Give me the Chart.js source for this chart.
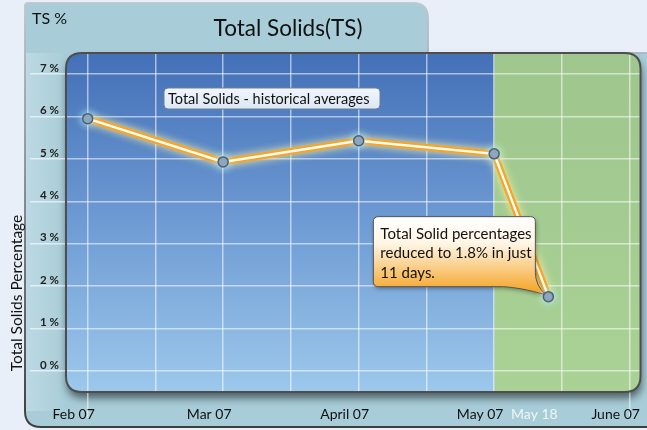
<!DOCTYPE html>
<html><head><meta charset="utf-8">
<script src="https://cdn.jsdelivr.net/npm/chart.js@4.4.0/dist/chart.umd.min.js"></script>
<style>html,body{margin:0;padding:0;background:#E9EFF8;}canvas{display:block;}</style>
</head><body>
<canvas id="c" width="647" height="430"></canvas>
<script>
// ---- data ----
const categories = ['Feb 07', 'Mar 07', 'April 07', 'May 07', 'May 18', 'June 07'];
const categoryPos = [0, 1, 2, 3, 3.4, 4];
const tsPercent = [5.95, 4.93, 5.43, 5.12, 1.75];   // June 07 has no value
const yTickValues = [0, 1, 2, 3, 4, 5, 6, 7];
const xGridStep = 0.5;
const shadeSplit = 3;                                // May 07: blue (historical) | green
const chartTitle = 'Total Solids(TS)';
const unitLabel = 'TS %';
const yAxisTitle = 'Total Solids Percentage';
const note1 = 'Total Solids - historical averages';
const note2 = ['Total Solid percentages', 'reduced to 1.8% in just', '11 days.'];

const FONT = 'Lato, "Open Sans", sans-serif';
const tsPoints = tsPercent.map((v, i) => ({ x: categoryPos[i], y: v }));

function rr(ctx, x, y, w, h, r) {
  ctx.beginPath();
  ctx.moveTo(x + r, y);
  ctx.lineTo(x + w - r, y); ctx.quadraticCurveTo(x + w, y, x + w, y + r);
  ctx.lineTo(x + w, y + h - r); ctx.quadraticCurveTo(x + w, y + h, x + w - r, y + h);
  ctx.lineTo(x + r, y + h); ctx.quadraticCurveTo(x, y + h, x, y + h - r);
  ctx.lineTo(x, y + r); ctx.quadraticCurveTo(x, y, x + r, y);
  ctx.closePath();
}

function drawCallouts(chart) {
  const ctx = chart.ctx, a = chart.chartArea;
  ctx.save();
  // callout 1
  const L1 = a.left + 98, T1 = a.top + 35, W1 = 216, H1 = 21;
  rr(ctx, L1, T1, W1, H1, 4);
  const g1 = ctx.createLinearGradient(0, T1, 0, T1 + H1);
  g1.addColorStop(0, '#F2F6FB'); g1.addColorStop(1, '#DCE7F4');
  ctx.fillStyle = g1; ctx.fill();
  ctx.lineWidth = 1; ctx.strokeStyle = '#6E7F96'; ctx.stroke();
  ctx.fillStyle = '#111'; ctx.font = '14.5px ' + FONT;
  ctx.textAlign = 'left'; ctx.textBaseline = 'middle';
  ctx.fillText(note1, L1 + 4, T1 + H1 / 2 + 0.5);

  // callout 2 anchored at the May 18 point
  const meta = chart.getDatasetMeta(0);
  const pt = meta.data[meta.data.length - 1];
  const tipX = pt.x - 3, tipY = pt.y - 2;
  const R = pt.x - 13, B = pt.y - 10, W = 162, H = 70, L = R - W, T = B - H, r = 5;
  ctx.beginPath();
  ctx.moveTo(L + r, T);
  ctx.lineTo(R - r, T); ctx.quadraticCurveTo(R, T, R, T + r);
  ctx.lineTo(R, B - 14);
  ctx.quadraticCurveTo(R, B - 2, tipX, tipY);
  ctx.quadraticCurveTo(R - 14, B + 1, R - 32, B);
  ctx.lineTo(L + r, B); ctx.quadraticCurveTo(L, B, L, B - r);
  ctx.lineTo(L, T + r); ctx.quadraticCurveTo(L, T, L + r, T);
  ctx.closePath();
  const g2 = ctx.createLinearGradient(0, T, 0, tipY);
  g2.addColorStop(0, '#FFFFFF'); g2.addColorStop(0.35, '#FFF5E4'); g2.addColorStop(1, '#F4A01C');
  ctx.save();
  ctx.shadowColor = 'rgba(0,0,0,0.35)'; ctx.shadowBlur = 4; ctx.shadowOffsetX = 1; ctx.shadowOffsetY = 2;
  ctx.fillStyle = g2; ctx.fill();
  ctx.restore();
  ctx.lineWidth = 1; ctx.strokeStyle = '#555'; ctx.stroke();
  ctx.fillStyle = '#111'; ctx.font = '15px ' + FONT;
  note2.forEach((s, i) => ctx.fillText(s, L + 7, T + 17 + i * 19.5));
  ctx.restore();
}

const decor = {
  id: 'decor',
  beforeDraw(chart) {
    const ctx = chart.ctx, a = chart.chartArea, W = chart.width, Hh = chart.height;
    ctx.save();
    ctx.fillStyle = '#E9EFF8'; ctx.fillRect(0, 0, W, Hh);
    // teal frame with tab
    const px = 25, tabR = 428, bot = 427;
    ctx.beginPath();
    ctx.moveTo(px, 6); ctx.quadraticCurveTo(px, 3, px + 3, 3);
    ctx.lineTo(tabR - 15, 3); ctx.quadraticCurveTo(tabR, 3, tabR, 18);
    ctx.lineTo(tabR, a.top); ctx.lineTo(W + 2, a.top);
    ctx.lineTo(W + 2, bot); ctx.lineTo(px + 16, bot);
    ctx.quadraticCurveTo(px, bot, px, bot - 16);
    ctx.closePath();
    ctx.fillStyle = '#A8CDD9'; ctx.fill();
    const sg = ctx.createLinearGradient(0, 0, 0, bot);
    sg.addColorStop(0, 'rgba(190,200,205,0.9)'); sg.addColorStop(0.5, 'rgba(120,125,130,0.9)'); sg.addColorStop(1, '#3E3E3E');
    ctx.lineWidth = 2; ctx.strokeStyle = sg; ctx.stroke();
    // light haze at left strip
    const hz = ctx.createLinearGradient(px, 0, a.left, 0);
    hz.addColorStop(0, 'rgba(255,255,255,0.25)'); hz.addColorStop(1, 'rgba(255,255,255,0)');
    ctx.fillStyle = hz; ctx.fillRect(px + 1, a.top, a.left - px, bot - a.top - 16);
    // plot rect with shadow
    const w = a.right - a.left, h = a.bottom - a.top;
    ctx.save();
    ctx.shadowColor = 'rgba(0,0,0,0.55)'; ctx.shadowBlur = 9; ctx.shadowOffsetY = 6; ctx.shadowOffsetX = 1;
    rr(ctx, a.left, a.top, w, h, 16);
    ctx.fillStyle = '#6F9ED6'; ctx.fill();
    ctx.restore();
    ctx.save();
    rr(ctx, a.left, a.top, w, h, 16); ctx.clip();
    const xs = chart.scales.x.getPixelForValue(shadeSplit);
    const gb = ctx.createLinearGradient(0, a.top, 0, a.bottom);
    gb.addColorStop(0, '#4370B7'); gb.addColorStop(0.5, '#6E9BD3'); gb.addColorStop(1, '#9DC8EC');
    ctx.fillStyle = gb; ctx.fillRect(a.left, a.top, xs - a.left, h);
    const gg = ctx.createLinearGradient(0, a.top, 0, a.bottom);
    gg.addColorStop(0, '#9EC68D'); gg.addColorStop(1, '#AAD296');
    ctx.fillStyle = gg; ctx.fillRect(xs, a.top, a.right - xs, h);
    ctx.restore();
    ctx.restore();
  },
  beforeDatasetsDraw(chart) {
    const ctx = chart.ctx, a = chart.chartArea;
    ctx.save();
    rr(ctx, a.left, a.top, a.right - a.left, a.bottom - a.top, 16);
    ctx.lineWidth = 2; ctx.strokeStyle = '#4E4E4E'; ctx.stroke();
    ctx.restore();
  },
  beforeDatasetDraw(chart, args) {
    const ds = chart.data.datasets[args.index];
    if (ds.glow) { chart.ctx.save(); chart.ctx.shadowColor = ds.glow; chart.ctx.shadowBlur = ds.glowBlur; }
  },
  afterDatasetDraw(chart, args) {
    const ds = chart.data.datasets[args.index];
    if (ds.glow) chart.ctx.restore();
    if (args.index === 1) drawCallouts(chart);
  },
  afterDraw(chart) {
    const ctx = chart.ctx;
    ctx.save();
    ctx.fillStyle = '#111'; ctx.textBaseline = 'middle';
    ctx.textAlign = 'left'; ctx.font = '16px ' + FONT;
    ctx.fillText(unitLabel, 32, 19);
    ctx.textAlign = 'center'; ctx.font = '22.5px ' + FONT;
    ctx.fillText(chartTitle, 288, 29);
    ctx.translate(17, 293); ctx.rotate(-Math.PI / 2);
    ctx.font = '15.5px ' + FONT;
    ctx.fillText(yAxisTitle, 0, 0);
    ctx.restore();
  }
};

new Chart(document.getElementById('c'), {
  type: 'line',
  data: {
    datasets: [
      { data: tsPoints, showLine: false, pointRadius: 5, pointHoverRadius: 5,
        pointBackgroundColor: '#8396AE', pointBorderColor: '#4F5E74', pointBorderWidth: 1.5,
        glow: 'rgba(175,240,255,1)', glowBlur: 9 },
      { data: tsPoints, borderColor: '#FFFDF2', borderWidth: 2.4, pointRadius: 0, tension: 0 },
      { data: tsPoints, borderColor: '#F5A52A', borderWidth: 7, pointRadius: 0, tension: 0,
        glow: 'rgba(255,240,160,1)', glowBlur: 8 }
    ]
  },
  options: {
    responsive: false, animation: false, devicePixelRatio: 1,
    layout: { padding: { top: 53, right: 3, left: 0, bottom: 0 } },
    plugins: { legend: { display: false }, tooltip: { enabled: false } },
    scales: {
      x: {
        type: 'linear', min: -0.16, max: 4.08,
        afterBuildTicks: ax => {
          const t = [];
          for (let v = 0; v <= categoryPos[categoryPos.length - 1] + 1e-9; v += xGridStep) t.push(+v.toFixed(2));
          categoryPos.forEach(p => { if (!t.includes(p)) t.push(p); });
          t.sort((p, q) => p - q);
          ax.ticks = t.map(v => ({ value: v }));
        },
        afterFit: ax => { ax.height = 38; },
        border: { display: false },
        grid: {
          color: c => (c.tick && Number.isInteger(c.tick.value / xGridStep)) ? 'rgba(255,255,255,0.55)' : 'rgba(0,0,0,0)',
          lineWidth: 1.5, drawTicks: true, tickLength: 26,
          tickColor: c => (c.tick && (c.tick.value === categoryPos[0] || c.tick.value === categoryPos[categoryPos.length - 1])) ? 'rgba(255,255,255,0.55)' : 'rgba(0,0,0,0)'
        },
        ticks: {
          autoSkip: false, maxRotation: 0, minRotation: 0, labelOffset: -14, padding: -12,
          callback: v => { const i = categoryPos.indexOf(v); return i >= 0 ? categories[i] : ''; },
          color: c => (c.tick && c.tick.value === categoryPos[4]) ? '#EEF5F8' : '#111',
          font: { family: FONT, size: 14 }
        }
      },
      y: {
        min: -0.5, max: 7.5,
        afterBuildTicks: ax => { ax.ticks = yTickValues.map(v => ({ value: v })); },
        afterFit: ax => { ax.width = 66; },
        border: { display: false },
        grid: { color: 'rgba(255,255,255,0.55)', lineWidth: 1.5, drawTicks: true, tickLength: 36, tickColor: 'rgba(255,255,255,0.6)' },
        ticks: {
          padding: -29, labelOffset: -6,
          callback: v => v + ' %',
          color: '#222', font: { family: FONT, size: 11.5, weight: 'bold' }
        }
      }
    }
  },
  plugins: [decor]
});
</script>
</body></html>
